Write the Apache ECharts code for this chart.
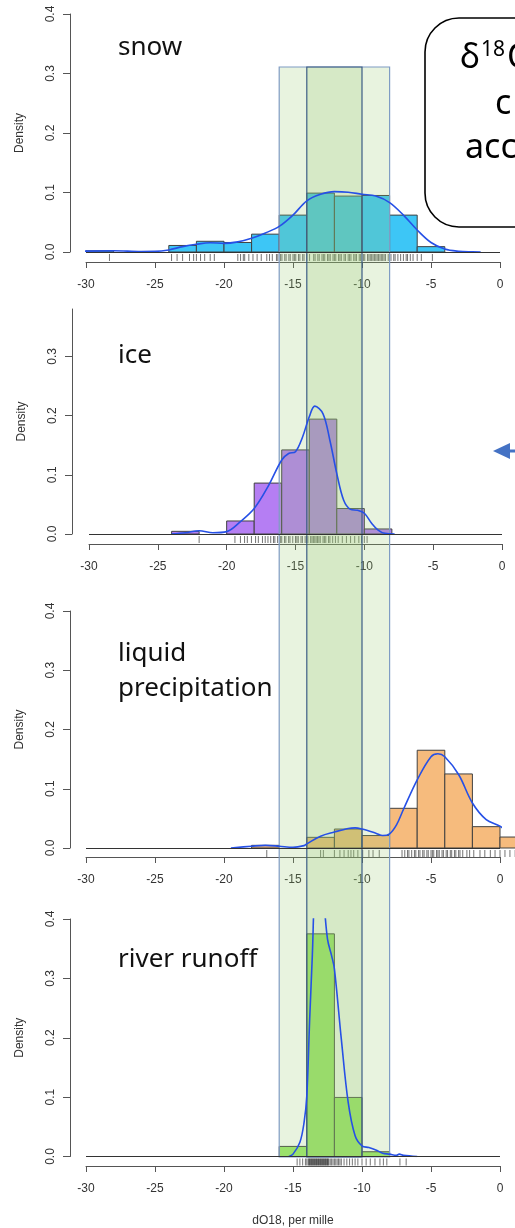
<!DOCTYPE html>
<html>
<head>
<meta charset="utf-8">
<script src="https://cdn.jsdelivr.net/npm/echarts@6/dist/echarts.min.js"></script>
<style>
html, body { margin: 0; padding: 0; background: #fff; }
#main { width: 515px; height: 1228px; }
</style>
</head>
<body>
<div id="main"></div>
<script>
// histogram bins are 2 per mille wide
var binWidth = 2
var xTicks = [-30, -25, -20, -15, -10, -5, 0]
var yTicks = [0, 0.1, 0.2, 0.3, 0.4]
var iceYTicks = [0, 0.1, 0.2, 0.3]

var snowBinStart = [-30, -24, -22, -20, -18, -16, -14, -12, -10, -8, -6]
var snowBinDensity = [0.002, 0.011, 0.018, 0.016, 0.030, 0.062, 0.099, 0.094, 0.095, 0.062, 0.009]
var snowKdeX = [-31.2, -30, -28, -26, -25, -24, -23, -22, -21, -20, -19, -18, -17, -16, -15, -14, -13, -12, -11, -10, -9, -8, -7, -6, -5, -4, -3, -2, -1.4]
var snowKdeY = [0, 0.0015, 0.0022, 0.0008, 0.001, 0.0035, 0.009, 0.013, 0.0155, 0.0145, 0.017, 0.023, 0.032, 0.043, 0.062, 0.086, 0.097, 0.1015, 0.1005, 0.097, 0.094, 0.083, 0.062, 0.037, 0.016, 0.005, 0.0012, 0.0002, 0]
var snowRug = [-28.3, -23.8, -23.4, -23.0, -22.5, -22.2, -22.0, -21.7, -21.4, -21.0, -20.7, -19.0, -18.8, -18.6, -18.5, -18.2, -17.9, -17.6, -17.3, -16.9, -16.7, -16.5, -16.2, -16.1, -15.9, -15.8, -15.6, -15.5, -15.3, -15.2, -15.0, -14.9, -14.8, -14.6, -14.5, -14.3, -14.2, -14.0, -13.8, -13.5, -13.4, -13.2, -13.1, -12.9, -12.8, -12.7, -12.5, -12.4, -12.3, -12.1, -12.0, -11.9, -11.7, -11.6, -11.5, -11.3, -11.2, -11.0, -10.9, -10.8, -10.6, -10.5, -10.4, -10.2, -10.1, -9.9, -9.8, -9.6, -9.5, -9.4, -9.3, -9.2, -9.1, -9.0, -8.9, -8.8, -8.7, -8.6, -8.5, -8.4, -8.3, -8.1, -7.9, -7.7, -7.6, -7.4, -7.2, -7.0, -6.8, -6.7, -6.5, -6.3, -6.0, -5.7, -4.9]

var iceBinStart = [-24, -20, -18, -16, -14, -12, -10]
var iceBinDensity = [0.0045, 0.022, 0.086, 0.142, 0.194, 0.043, 0.0085]
var iceKdeX = [-24, -23, -22, -21, -20, -19, -18, -17, -16, -15.5, -15, -14.5, -14, -13.6, -13, -12.5, -12, -11.5, -11, -10.5, -10, -9.5, -9, -8.5, -7.8]
var iceKdeY = [0, 0.002, 0.0056, 0.002, 0.004, 0.021, 0.043, 0.08, 0.125, 0.136, 0.139, 0.163, 0.198, 0.216, 0.203, 0.158, 0.102, 0.057, 0.0416, 0.040, 0.035, 0.019, 0.0067, 0.001, 0]
var iceRug = [-22.0, -19.4, -19.0, -18.7, -18.5, -18.2, -17.9, -17.7, -17.4, -17.2, -17.0, -16.8, -16.6, -16.5, -16.3, -16.1, -16.0, -15.8, -15.7, -15.5, -15.4, -15.2, -15.0, -14.9, -14.8, -14.6, -14.5, -14.3, -14.2, -14.1, -13.9, -13.8, -13.7, -13.6, -13.5, -13.4, -13.3, -13.2, -13.0, -12.9, -12.8, -12.6, -12.5, -12.3, -12.1, -11.9, -11.6, -11.3, -11.0, -10.7, -10.4, -10.2, -10.0, -9.8]

var liquidBinStart = [-18, -14, -12, -10, -8, -6, -4, -2, 0]
var liquidBinDensity = [0.0045, 0.018, 0.032, 0.021, 0.067, 0.165, 0.125, 0.036, 0.0185]
var liquidKdeX = [-19.5, -18, -17, -16, -15, -14.2, -14, -13, -12, -11, -10.5, -10, -9, -8.5, -8, -7.5, -7, -6, -5, -4.5, -4, -3, -2, -1, 0, 1, 2]
var liquidKdeY = [0, 0.003, 0.0045, 0.003, 0.001, 0.004, 0.007, 0.02, 0.027, 0.033, 0.034, 0.032, 0.025, 0.021, 0.024, 0.039, 0.065, 0.115, 0.154, 0.159, 0.154, 0.124, 0.076, 0.048, 0.037, 0.02, 0.01]
var liquidRug = [-16.9, -13.0, -12.8, -12.0, -11.6, -11.3, -11.0, -10.8, -10.6, -10.3, -9.95, -9.5, -9.2, -8.75, -7.1, -6.9, -6.7, -6.6, -6.4, -6.2, -6.1, -5.9, -5.8, -5.6, -5.5, -5.3, -5.2, -5.0, -4.9, -4.8, -4.6, -4.5, -4.4, -4.2, -4.1, -3.9, -3.8, -3.6, -3.5, -3.3, -3.2, -3.0, -2.9, -2.7, -2.4, -2.2, -1.9, -1.45, -1.1, -0.7, -0.36, 0.0, 0.36, 0.72, 1.1]

var riverBinStart = [-16, -14, -12, -10]
var riverBinDensity = [0.017, 0.375, 0.0995, 0.008]
var riverKdeX = [-15.3, -15, -14.5, -14.2, -14, -13.8, -13.6, -13.4, -13.1, -12.8, -12.5, -12.2, -12, -11.5, -11, -10.5, -10, -9.5, -9, -8.5, -8, -7.5, -7.3, -7, -6]
var riverKdeY = [0, 0.004, 0.024, 0.057, 0.102, 0.226, 0.338, 0.46, 0.5, 0.44, 0.366, 0.338, 0.316, 0.198, 0.091, 0.035, 0.018, 0.015, 0.011, 0.0056, 0.004, 0.002, 0.004, 0.002, 0]
var riverRug = [-14.7, -14.5, -14.3, -14.1, -14.0, -13.9, -13.85, -13.8, -13.75, -13.7, -13.65, -13.6, -13.55, -13.5, -13.45, -13.4, -13.35, -13.3, -13.25, -13.2, -13.15, -13.1, -13.05, -13.0, -12.95, -12.9, -12.85, -12.8, -12.75, -12.7, -12.65, -12.6, -12.55, -12.5, -12.45, -12.4, -12.3, -12.2, -12.1, -12.0, -11.9, -11.8, -11.7, -11.6, -11.5, -11.3, -11.1, -10.9, -10.7, -10.5, -10.3, -10.0, -9.7, -9.4, -9.06, -8.7, -8.45, -8.2, -7.25, -6.8]

// shaded ranges across all panels
var bandOuter = [-16, -8]
var bandInner = [-14, -10]

var panels = [
    {label: 'snow', bins: snowBinStart, dens: snowBinDensity, kx: snowKdeX, ky: snowKdeY, rug: snowRug,
     color: '#3DC6F6', top: 14, height: 238, left: 86, right: 15, yMax: 0.4, ticks: yTicks, yOff: 16, xOff: 10, clip: false, labelY: 46},
    {label: 'ice', bins: iceBinStart, dens: iceBinDensity, kx: iceKdeX, ky: iceKdeY, rug: iceRug,
     color: '#B57EF3', top: 309, height: 225, left: 89, right: 13, yMax: 0.38, ticks: iceYTicks, yOff: 17, xOff: 10, clip: false, labelY: 354},
    {label: 'liquid\nprecipitation', bins: liquidBinStart, dens: liquidBinDensity, kx: liquidKdeX, ky: liquidKdeY, rug: liquidRug,
     color: '#F6BB7D', top: 611, height: 237, left: 86, right: 15, yMax: 0.4, ticks: yTicks, yOff: 16, xOff: 9, clip: false, labelY: 652},
    {label: 'river runoff', bins: riverBinStart, dens: riverBinDensity, kx: riverKdeX, ky: riverKdeY, rug: riverRug,
     color: '#9BE86B', top: 919, height: 238, left: 86, right: 15, yMax: 0.4, ticks: yTicks, yOff: 16, xOff: 9.5, clip: true, labelY: 958}
]

var axisFont = 'Liberation Sans, Arial, sans-serif'

var barRenderer = function (color) {
    return function (params, api) {
        var x0 = api.value(0)
        var h = api.value(1)
        var p0 = api.coord([x0, h])
        var p1 = api.coord([x0 + binWidth, 0])
        return {
            type: 'rect',
            shape: {x: p0[0], y: p0[1], width: p1[0] - p0[0], height: p1[1] - p0[1]},
            style: {fill: color, stroke: '#404040', lineWidth: 1}
        }
    }
}

var rugRenderer = function (params, api) {
    var p = api.coord([api.value(0), 0])
    return {
        type: 'line',
        shape: {x1: p[0], y1: p[1] + 2, x2: p[0], y2: p[1] + 9},
        style: {stroke: 'rgba(0,0,0,0.55)', lineWidth: 1}
    }
}

var bandRenderer = function (params, api) {
    var a = api.coord([api.value(0), 1])
    var b = api.coord([api.value(1), 0])
    return {
        type: 'rect',
        shape: {x: a[0], y: a[1], width: b[0] - a[0], height: b[1] - a[1]},
        style: {
            fill: 'rgba(150,200,109,0.22)',
            stroke: params.dataIndex === 0 ? '#7F9CC4' : '#3D5C86',
            lineWidth: 1.2
        }
    }
}

var grid = [], xAxis = [], yAxis = [], series = [], graphic = []

panels.forEach(function (p, i) {
    grid.push({left: p.left, right: p.right, top: p.top, height: p.height})
    xAxis.push({
        type: 'value', gridIndex: i, min: -30, max: 0, interval: 5, offset: p.xOff,
        axisLine: {onZero: false, lineStyle: {color: '#555', width: 1}},
        axisTick: {length: 6, lineStyle: {color: '#555'}},
        axisLabel: {fontSize: 12, color: '#333', margin: 17, fontFamily: axisFont},
        splitLine: {show: false},
        name: i === 3 ? 'dO18, per mille' : '',
        nameLocation: 'middle', nameGap: 49,
        nameTextStyle: {fontSize: 12, color: '#333', fontFamily: axisFont}
    })
    yAxis.push({
        type: 'value', gridIndex: i, min: 0, max: p.yMax, interval: 0.1, offset: p.yOff,
        axisLine: {show: true, onZero: false, lineStyle: {color: '#555', width: 1}},
        axisTick: {show: true, length: 7, customValues: p.ticks, lineStyle: {color: '#555'}},
        axisLabel: {
            rotate: 90, fontSize: 12, color: '#333', margin: 13, fontFamily: axisFont,
            customValues: p.ticks,
            formatter: function (v) { return v.toFixed(1) }
        },
        splitLine: {show: false},
        name: 'Density', nameLocation: 'middle', nameRotate: 90, nameGap: 44,
        nameTextStyle: {fontSize: 12, color: '#333', fontFamily: axisFont}
    })

    series.push({
        type: 'custom', xAxisIndex: i, yAxisIndex: i, z: 2, silent: true,
        renderItem: barRenderer(p.color),
        data: p.bins.map(function (b, k) { return [b, p.dens[k]] })
    })
    series.push({
        type: 'custom', xAxisIndex: i, yAxisIndex: i, z: 2, silent: true,
        renderItem: rugRenderer,
        data: p.rug.map(function (v) { return [v, 0] })
    })
    series.push({
        type: 'line', xAxisIndex: i, yAxisIndex: i, z: 4, silent: true,
        showSymbol: false, smooth: 0.35, clip: p.clip,
        lineStyle: {color: '#2650E6', width: 1.6},
        data: p.kx.map(function (x, k) { return [x, p.ky[k]] }),
        markLine: {
            silent: true, symbol: ['none', 'none'], label: {show: false},
            lineStyle: {color: '#333', width: 1, type: 'solid'},
            data: [{yAxis: 0}]
        }
    })

    graphic.push({
        type: 'text', left: 118, top: p.labelY - 16, z: 10,
        style: {text: p.label, font: '26px "Noto Sans"', fill: '#111', lineHeight: 35}
    })
})

// overlay grid for the green bands (spans all four panels)
grid.push({left: 86, right: 15, top: 67, bottom: 71})
xAxis.push({type: 'value', gridIndex: 4, min: -30, max: 0, show: false})
yAxis.push({type: 'value', gridIndex: 4, min: 0, max: 1, show: false})
series.push({
    type: 'custom', xAxisIndex: 4, yAxisIndex: 4, z: 3, silent: true,
    renderItem: bandRenderer,
    data: [bandOuter, bandInner]
})

// text box (cut off at the right edge) and arrow
graphic.push({
    type: 'rect', z: 10,
    shape: {x: 425, y: 18, width: 160, height: 209, r: 34},
    style: {fill: '#fff', stroke: '#000', lineWidth: 1.6}
})
graphic.push({type: 'text', x: 460, y: 58, z: 11, style: {text: 'δ', font: '34px "Noto Sans"', fill: '#000', verticalAlign: 'middle'}})
graphic.push({type: 'text', x: 481, y: 50, z: 11, style: {text: '18', font: '21px "Noto Sans"', fill: '#000', verticalAlign: 'middle'}})
graphic.push({type: 'text', x: 507, y: 58, z: 11, style: {text: 'O range', font: '34px "Noto Sans"', fill: '#000', verticalAlign: 'middle'}})
graphic.push({type: 'text', x: 495, y: 104, z: 11, style: {text: 'c', font: '34px "Noto Sans"', fill: '#000', verticalAlign: 'middle'}})
graphic.push({type: 'text', x: 465, y: 148, z: 11, style: {text: 'according', font: '34px "Noto Sans"', fill: '#000', verticalAlign: 'middle'}})
graphic.push({
    type: 'line', z: 11,
    shape: {x1: 506, y1: 451, x2: 530, y2: 451},
    style: {stroke: '#4472C4', lineWidth: 3}
})
graphic.push({
    type: 'polygon', z: 11,
    shape: {points: [[493, 451], [510, 443], [510, 459]]},
    style: {fill: '#4472C4'}
})

var myChart = echarts.init(document.getElementById('main'))
myChart.setOption({
    animation: false,
    backgroundColor: '#fff',
    grid: grid,
    xAxis: xAxis,
    yAxis: yAxis,
    series: series,
    graphic: graphic
})
</script>
</body>
</html>
